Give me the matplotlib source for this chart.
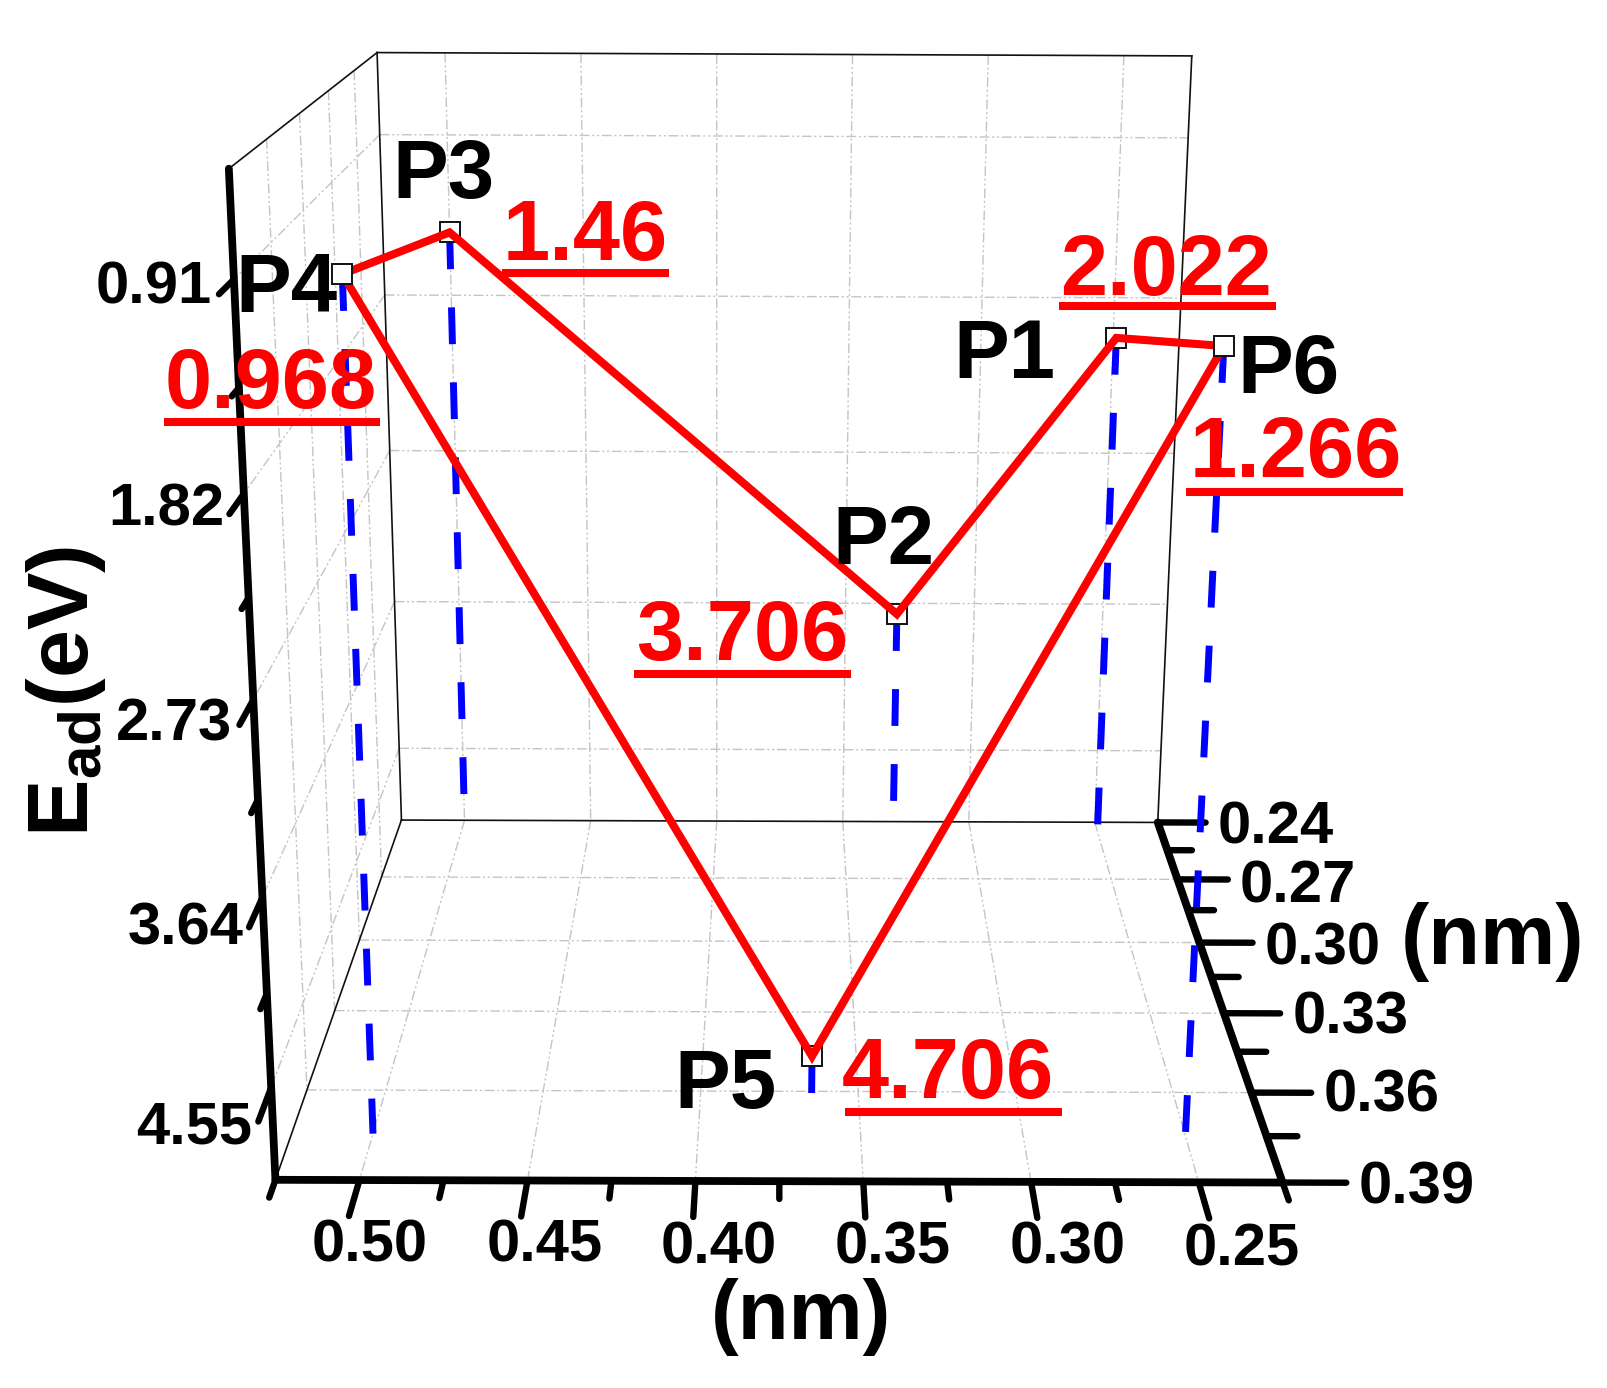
import numpy as np
import matplotlib
matplotlib.use("Agg")
import matplotlib.pyplot as plt

W, H = 1608, 1388

plt.rcParams['font.family'] = ['Liberation Sans', 'DejaVu Sans']
plt.rcParams['font.weight'] = 'bold'
plt.rcParams['mathtext.fontset'] = 'custom'
plt.rcParams['mathtext.bf'] = 'Liberation Sans:bold'

# data
names = ['P1', 'P2', 'P3', 'P4', 'P5', 'P6']
dist_x = [0.25, 0.33, 0.50, 0.50, 0.365, 0.25]
dist_y = [0.245, 0.24, 0.24, 0.375, 0.368, 0.375]
ead = [2.022, 3.706, 1.46, 0.968, 4.706, 1.266]
val_text = ['2.022', '3.706', '1.46', '0.968', '4.706', '1.266']

x_lim = (0.525, 0.225)
y_lim = (0.24, 0.39)
z_lim = (0.455, 5.005)
x_major = [0.50, 0.45, 0.40, 0.35, 0.30, 0.25]
x_minor = [0.525, 0.475, 0.425, 0.375, 0.325, 0.275, 0.225]
y_major = [0.24, 0.27, 0.30, 0.33, 0.36, 0.39]
y_minor = [0.255, 0.285, 0.315, 0.345, 0.375]
z_major = [0.91, 1.82, 2.73, 3.64, 4.55]
z_minor = [1.365, 2.275, 3.185, 4.095]

# box corners in the picture, used to get the camera matrix
calib_world = [(0.525, 0.39, 5.005), (0.225, 0.39, 5.005), (0.525, 0.24, 5.005),
               (0.225, 0.24, 5.005), (0.525, 0.24, 0.455), (0.225, 0.24, 0.455),
               (0.525, 0.39, 0.455)]
calib_px = [(275, 1180), (1282, 1183), (402, 820), (1158, 822), (376, 53), (1192, 56), (230, 168)]


def camera_matrix():
    rows = []
    for (X, Y, Z), (u, v) in zip(calib_world, calib_px):
        rows.append([X, Y, Z, 1, 0, 0, 0, 0, -u * X, -u * Y, -u * Z, -u])
        rows.append([0, 0, 0, 0, X, Y, Z, 1, -v * X, -v * Y, -v * Z, -v])
    return np.linalg.svd(np.array(rows, dtype=float))[2][-1].reshape(3, 4)


P = camera_matrix()


def line3d(xs, ys, zs, **style):
    pts = np.column_stack([xs, ys, zs, np.ones(len(xs))])
    v = pts @ P.T
    return ax.plot(v[:, 0] / v[:, 2], v[:, 1] / v[:, 2], **style)


fig = plt.figure(figsize=(W / 100, H / 100), dpi=100)
ax = fig.add_axes([0, 0, 1, 1])
ax.set_xlim(0, W)
ax.set_ylim(H, 0)
ax.axis('off')

x0, x1 = x_lim
y0, y1 = y_lim
z0, z1 = z_lim

# grid on the three walls
grid_style = dict(color='#c4c4c4', lw=1.0, ls=(0, (7, 2, 1.5, 2, 1.5, 2)), zorder=1)
for x in x_major:
    line3d([x, x], [y0, y1], [z1, z1], **grid_style)
    line3d([x, x], [y0, y0], [z0, z1], **grid_style)
for y in y_major[1:-1]:
    line3d([x0, x1], [y, y], [z1, z1], **grid_style)
    line3d([x0, x0], [y, y], [z0, z1], **grid_style)
for z in z_major:
    line3d([x0, x1], [y0, y0], [z, z], **grid_style)
    line3d([x0, x0], [y0, y1], [z, z], **grid_style)

# thin box edges
thin = dict(color='#111111', lw=1.2, zorder=2)
line3d([x0, x0], [y0, y1], [z1, z1], **thin)
line3d([x0, x1], [y0, y0], [z1, z1], **thin)
line3d([x0, x1], [y0, y0], [z0, z0], **thin)
line3d([x0, x0], [y0, y1], [z0, z0], **thin)
line3d([x0, x0], [y0, y0], [z0, z1], **thin)
line3d([x1, x1], [y0, y0], [z0, z1], **thin)

# thick axes and ticks
axis_style = dict(color='black', lw=5.6, solid_capstyle='round', zorder=3)
line3d([x0, x1], [y1, y1], [z1, z1], **axis_style)
line3d([x1, x1], [y0, y1], [z1, z1], **axis_style)
line3d([x0, x0], [y1, y1], [z0, z1], **axis_style)
tick_style = dict(color='black', lw=4.6, solid_capstyle='round', zorder=3)
for x in x_major:
    line3d([x, x], [y1, y1 + 0.011], [z1, z1], **tick_style)
for x in x_minor:
    line3d([x, x], [y1, y1 + 0.0055], [z1, z1], **tick_style)
for y in y_major:
    line3d([x1, x1 - 0.019], [y, y], [z1, z1], **tick_style)
for y in y_minor:
    line3d([x1, x1 - 0.0095], [y, y], [z1, z1], **tick_style)
for z in z_major:
    line3d([x0, x0], [y1, y1 + 0.011], [z, z], **tick_style)
for z in z_minor:
    line3d([x0, x0], [y1, y1 + 0.0055], [z, z], **tick_style)

# drop lines
for x, y, z in zip(dist_x, dist_y, ead):
    line3d([x, x], [y, y], [z, z1], color='#0000ff', lw=5, ls=(0, (5.3, 5.5)), zorder=4)

# squares, then the path; P4 and P6 sit on top of it
marker = dict(marker='s', ms=14, mfc='white', mec='#111111', mew=1.4, ls='none')
top_points = ['P4', 'P6']
for n, x, y, z in zip(names, dist_x, dist_y, ead):
    line3d([x], [y], [z], zorder=7 if n in top_points else 5, **marker)
order = [3, 2, 1, 0, 5, 4, 3]
line3d([dist_x[i] for i in order], [dist_y[i] for i in order], [ead[i] for i in order],
       color='#ff0000', lw=5.8, solid_joinstyle='miter', zorder=6)


def label(px_x, px_y, s, size, color='black', **kw):
    ax.text(px_x, px_y, s, fontsize=size, color=color, fontweight='bold',
            ha=kw.pop('ha', 'left'), va=kw.pop('va', 'baseline'), zorder=10, **kw)


z_labels = ['0.91', '1.82', '2.73', '3.64', '4.55']
z_label_pos = [(96, 303), (108, 525), (116, 740), (128, 944), (136, 1143)]
for s, (a, b) in zip(z_labels, z_label_pos):
    label(a, b, s, 43)
x_labels = ['0.50', '0.45', '0.40', '0.35', '0.30', '0.25']
x_label_pos = [(312, 1262), (487, 1262), (661, 1263), (835, 1263), (1010, 1264), (1184, 1265)]
for s, (a, b) in zip(x_labels, x_label_pos):
    label(a, b, s, 43)
y_labels = ['0.24', '0.27', '0.30', '0.33', '0.36', '0.39']
y_label_pos = [(1218, 843), (1240, 902), (1265, 964), (1293, 1034), (1324, 1112), (1359, 1203)]
for s, (a, b) in zip(y_labels, y_label_pos):
    label(a, b, s, 43)

label(1401, 964, '(nm)', 61)
label(711, 1339, '(nm)', 60)
label(66, 691, r'$\mathbf{E_{ad}}$(eV)', 62, rotation=90, ha='center', va='center')

name_pos = [(953, 378), (832, 564), (392, 198), (235, 312), (674, 1108), (1237, 393)]
for s, (a, b) in zip(names, name_pos):
    label(a, b, s, 60)

val_pos = [(1060, 295), (636, 660), (503, 260), (165, 408), (842, 1098), (1190, 477)]
rule_pos = [(1059, 1276, 306), (634, 851, 674), (502, 669, 273), (164, 380, 422),
            (845, 1062, 1112), (1186, 1403, 492)]
for s, (a, b), (r0, r1, ry) in zip(val_text, val_pos, rule_pos):
    label(a, b, s, 61, color='#ff0000')
    ax.plot([r0, r1], [ry, ry], color='#ff0000', lw=5.8, solid_capstyle='butt', zorder=9)

fig.savefig('out.png', dpi=100)
